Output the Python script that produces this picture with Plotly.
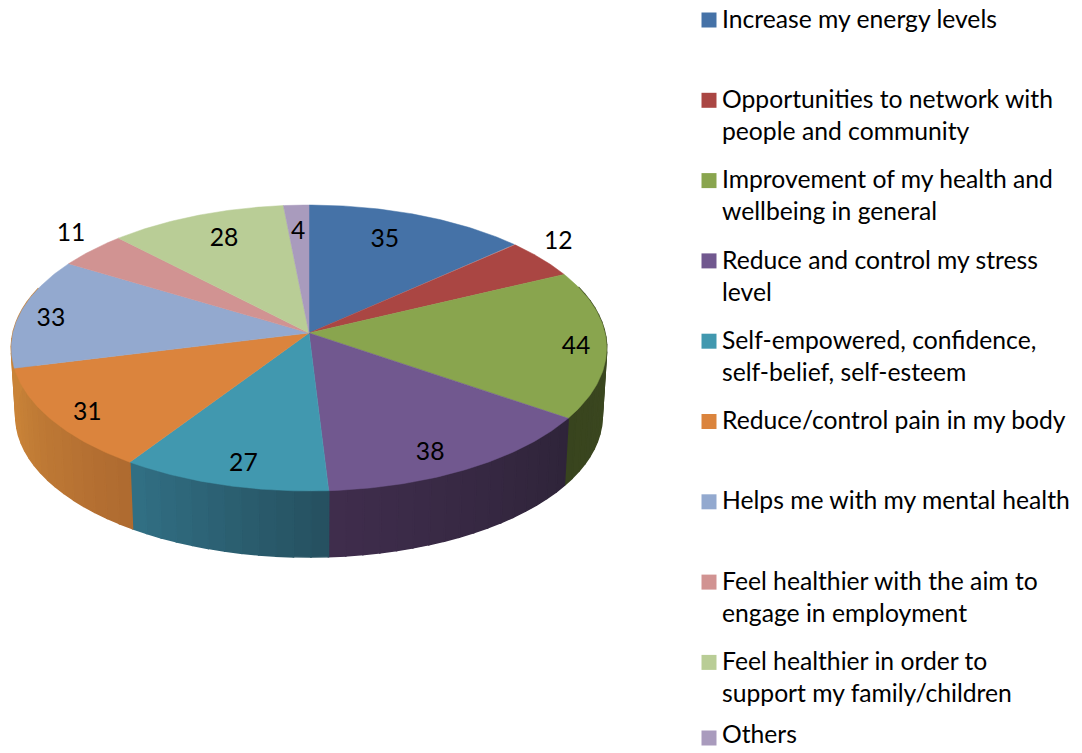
import numpy as np
import plotly.graph_objects as go

categories = ["Increase my energy levels",
              "Opportunities to network with<br>people and community",
              "Improvement of my health and<br>wellbeing in general",
              "Reduce and control my stress<br>level",
              "Self-empowered, confidence,<br>self-belief, self-esteem",
              "Reduce/control pain in my body",
              "Helps me with my mental health",
              "Feel healthier with the aim to<br>engage in employment",
              "Feel healthier in order to<br>support my family/children",
              "Others"]
values = [35, 12, 44, 38, 27, 31, 33, 11, 28, 4]
colors = ["#4572A7", "#AA4643", "#89A54E", "#71588F", "#4198AF",
          "#DB843D", "#93A9CF", "#D19392", "#B9CD96", "#A99BBD"]
# wall shading (start of slice -> end of slice, clockwise)
wall_start = ["#2F4D72", "#732F2D", "#3F4C22", "#2F2439", "#25505F",
              "#AE6A30", "#C98338", "#9A6C6B", "#8A9A6E", "#7D7290"]
wall_end = ["#2F4D72", "#732F2D", "#38441E", "#3F2D4D", "#327085",
            "#C98338", "#C98338", "#9A6C6B", "#8A9A6E", "#7D7290"]
label_radius = [0.765, 1.142, 0.898, 0.860, 0.862, 0.883, 0.888, 1.157, 0.786, 0.781]
label_turn = [-2.85, -3.8, 1.4, 3.5, -1.5, -1.5, -1.7, 2.7, 1.5, -0.2]

FONT = "Lato, Carlito, Calibri, sans-serif"
CX, CY, A, B, K = 309.0, 333.0, 296.0, 141.4, 0.105
BOT_SCALE, BOT_SHIFT = 0.985, 68.4
TEXT_Y_MAX = 737.0


def project(theta, r=1.0, bottom=False):
    """Perspective view of a point on the pie disc; theta is clockwise from 12 o'clock."""
    u, v = r * np.sin(theta), r * np.cos(theta)
    w = 1 + K * v
    s = BOT_SCALE if bottom else 1.0
    d = BOT_SHIFT if bottom else 0.0
    return CX + s * A * u / w, CY + d - s * B * v / w


def mix(c1, c2, t):
    a = [int(c1[i:i + 2], 16) for i in (1, 3, 5)]
    b = [int(c2[i:i + 2], 16) for i in (1, 3, 5)]
    return "rgb(%d,%d,%d)" % tuple(round(p + (q - p) * t) for p, q in zip(a, b))


fig = go.Figure()
edges = np.radians(np.concatenate([[0], np.cumsum(values)]) * 360.0 / sum(values))

# walls, drawn first so that the top disc covers the hidden part
for i in range(len(values)):
    n = max(2, int(np.degrees(edges[i + 1] - edges[i]) / 3))
    ts = np.linspace(edges[i], edges[i + 1], n + 1)
    for j in range(n):
        if np.cos((ts[j] + ts[j + 1]) / 2) > 0.35:
            continue
        seg = np.linspace(ts[j], ts[j + 1], 3)
        xt, yt = project(seg)
        xb, yb = project(seg[::-1], bottom=True)
        col = mix(wall_start[i], wall_end[i], (j + 0.5) / n)
        fig.add_trace(go.Scatter(x=np.r_[xt, xb, xt[0]], y=np.r_[yt, yb, yt[0]], mode="lines",
                                 fill="toself", fillcolor=col, line=dict(color=col, width=1.6),
                                 hoverinfo="skip", showlegend=False))

# top of every slice
for i, cat in enumerate(categories):
    ts = np.linspace(edges[i], edges[i + 1], 80)
    x, y = project(ts)
    fig.add_trace(go.Scatter(x=np.r_[CX, x, CX], y=np.r_[CY, y, CY], mode="lines",
                             fill="toself", fillcolor=colors[i],
                             line=dict(color=colors[i], width=0.5),
                             name=cat.replace("<br>", " "), text=str(values[i]),
                             hoverinfo="name+text", showlegend=False))

# data labels
mids = (edges[:-1] + edges[1:]) / 2 + np.radians(label_turn)
lx, ly = project(mids, np.array(label_radius))
fig.add_trace(go.Scatter(x=lx, y=ly + 2, mode="text", text=[str(v) for v in values],
                         textposition="middle center", hoverinfo="skip", showlegend=False,
                         textfont=dict(family=FONT, size=24.7, color="#000000")))

# legend
LEG_Y0, LEG_STEP, LINE_H = 20.0, 80.3, 32.0
rows = LEG_Y0 + LEG_STEP * np.arange(len(categories))
fig.add_trace(go.Scatter(x=[709] * len(rows), y=np.minimum(rows, TEXT_Y_MAX + 1), mode="markers",
                         hoverinfo="skip", showlegend=False,
                         marker=dict(symbol="square", size=15, color=colors, line=dict(width=0))))
tx, ty, tt = [], [], []
for y0, cat in zip(rows, categories):
    for k, line in enumerate(cat.split("<br>")):
        tx.append(722)
        ty.append(min(y0 + k * LINE_H + 1.5, TEXT_Y_MAX))
        tt.append(line)
fig.add_trace(go.Scatter(x=tx, y=ty, mode="text", text=tt, textposition="middle right",
                         hoverinfo="skip", showlegend=False, cliponaxis=False,
                         textfont=dict(family=FONT, size=24.7, color="#000000")))

fig.update_layout(width=1082, height=753, margin=dict(l=0, r=0, t=0, b=0),
                  paper_bgcolor="white", plot_bgcolor="white", showlegend=False,
                  xaxis=dict(range=[0, 1082], visible=False, fixedrange=True),
                  yaxis=dict(range=[753, 0], visible=False, fixedrange=True))
fig.write_html("out.html", config={"displayModeBar": False},
               post_script="document.body.style.margin='0';document.body.style.overflow='hidden';")
